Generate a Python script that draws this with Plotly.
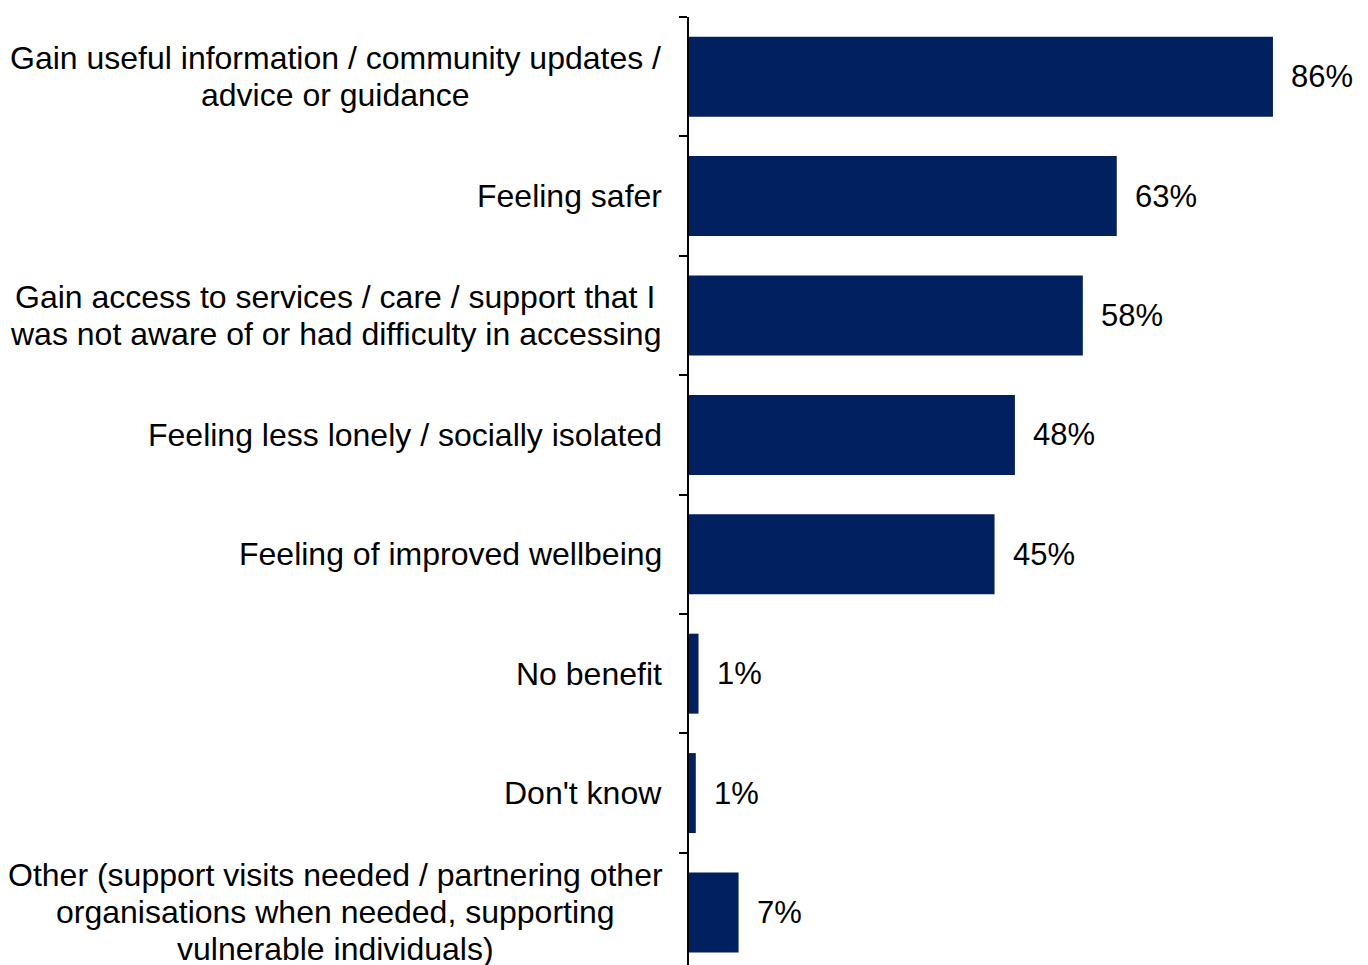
import plotly.graph_objects as go

categories = [
    "Gain useful information / community updates /<br>advice or guidance",
    "Feeling safer",
    "Gain access to services / care / support that I<br>was not aware of or had difficulty in accessing",
    "Feeling less lonely / socially isolated",
    "Feeling of improved wellbeing",
    "No benefit",
    "Don't know",
    "Other (support visits needed / partnering other<br>organisations when needed, supporting<br>vulnerable individuals)",
]
values = [86, 63, 58, 48, 45, 1.4, 1.0, 7.3]

FONT = "Liberation Sans, Arial, sans-serif"
BAR_COLOR = "#002060"
CAT_SIZE = 32
VAL_SIZE = 31
LINE_STEP = 37          # px between lines of a wrapped label
LABEL_GAP = 25          # px between label block right edge and axis
BLOCK_CENTER = -354     # px offset of wrapped-label centre from axis

idx = list(range(len(categories)))

fig = go.Figure(
    go.Bar(
        x=values,
        y=idx,
        orientation="h",
        marker=dict(color=BAR_COLOR, line=dict(width=0)),
        hoverinfo="skip",
    )
)

annotations = []
for i, (cat, v) in enumerate(zip(categories, values)):
    lines = cat.split("<br>")
    n = len(lines)
    if n == 1:
        annotations.append(dict(
            x=0, xref="paper", y=i, yref="y",
            text=cat, showarrow=False, xanchor="right", yanchor="middle",
            xshift=-LABEL_GAP,
            font=dict(family=FONT, size=CAT_SIZE, color="black"),
        ))
    else:
        for k, ln in enumerate(lines):
            annotations.append(dict(
                x=0, xref="paper", y=i, yref="y",
                text=ln, showarrow=False, xanchor="center", yanchor="middle",
                xshift=BLOCK_CENTER, yshift=-(k - (n - 1) / 2) * LINE_STEP,
                font=dict(family=FONT, size=CAT_SIZE, color="black"),
            ))
    annotations.append(dict(
        x=v, xref="x", y=i, yref="y",
        text=f"{v:.0f}%", showarrow=False, xanchor="left", yanchor="middle",
        xshift=16,
        font=dict(family=FONT, size=VAL_SIZE, color="black"),
    ))

fig.update_layout(
    width=1361, height=957,
    margin=dict(l=681, r=1, t=9, b=0),
    paper_bgcolor="white", plot_bgcolor="white",
    bargap=0.33,
    showlegend=False,
    annotations=annotations,
    xaxis=dict(range=[0, 100], visible=False, showgrid=False, zeroline=False),
    yaxis=dict(
        type="linear",
        range=[7.44, -0.5],
        tickmode="array",
        tickvals=[i - 0.5 for i in range(len(categories) + 1)],
        ticktext=[""] * (len(categories) + 1),
        ticks="outside", ticklen=8, tickwidth=2, tickcolor="black",
        showline=True, linecolor="black", linewidth=2,
        showgrid=False, zeroline=False,
        showticklabels=False,
    ),
)

fig.write_html("out.html")
